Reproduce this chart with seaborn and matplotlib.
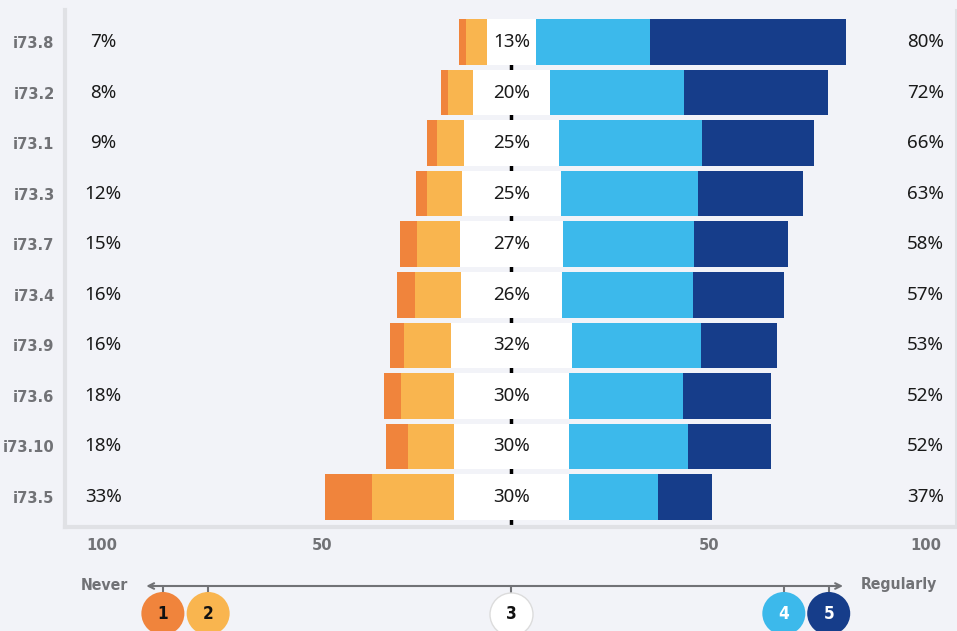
import matplotlib
matplotlib.use("Agg")
import matplotlib.pyplot as plt
import pandas as pd
import seaborn as sns
from matplotlib import font_manager

items = ["i73.8", "i73.2", "i73.1", "i73.3", "i73.7", "i73.4", "i73.9", "i73.6", "i73.10", "i73.5"]

# answer shares in % (1 = never ... 5 = regularly)
never = [1.8, 1.8, 2.6, 2.8, 4.4, 4.7, 3.6, 4.4, 5.9, 12.1]
rarely = [5.4, 6.5, 7.0, 9.0, 11.1, 11.9, 12.1, 13.7, 11.9, 21.2]
neutral = [12.7, 19.9, 24.5, 25.6, 26.6, 26.1, 31.3, 29.5, 29.5, 29.7]
often = [29.5, 34.6, 37.0, 35.4, 33.9, 33.9, 33.3, 29.7, 31.0, 23.0]
regularly = [50.6, 37.2, 28.9, 27.1, 24.3, 23.5, 19.6, 22.7, 21.4, 14.0]

left_labels = ["7%", "8%", "9%", "12%", "15%", "16%", "16%", "18%", "18%", "33%"]
mid_labels = ["13%", "20%", "25%", "25%", "27%", "26%", "32%", "30%", "30%", "30%"]
right_labels = ["80%", "72%", "66%", "63%", "58%", "57%", "53%", "52%", "52%", "37%"]

tick_pos = [-106, -49, 51, 107]
tick_labels = ["100", "50", "50", "100"]

scale_labels = ["1", "2", "3", "4", "5"]
scale_pos = [-90.1, -78.4, 0, 70.4, 82.0]

colors = ["#f0843c", "#f9b54f", "#ffffff", "#3cb9eb", "#163d8a"]
bg = "#f2f3f8"
grey = "#717276"
spine_c = "#e0e1e5"

fonts = font_manager.fontManager.ttflist
names = {f.name for f in fonts}
has_cond = any(f.name == "DejaVu Sans" and f.stretch == "condensed" for f in fonts)
if "Liberation Sans Narrow" in names:
    narrow, stretch, gsize = "Liberation Sans Narrow", "normal", 13
elif has_cond:
    narrow, stretch, gsize = "DejaVu Sans", "condensed", 11.3
else:
    narrow, stretch, gsize = "Roboto Condensed" if "Roboto Condensed" in names else "Roboto", "normal", 11.5
body = "Noto Sans" if "Noto Sans" in names else "DejaVu Sans"

sns.set_style("white")
plt.rcParams["font.family"] = [body, "DejaVu Sans"]

cond = dict(family=[narrow, "DejaVu Sans"], stretch=stretch, fontweight="bold")

df = pd.DataFrame({"item": items, "n1": never, "n2": rarely, "n3": neutral,
                   "n4": often, "n5": regularly})
half = df["n3"] / 2
df["r5"] = half + df["n4"] + df["n5"]
df["r4"] = half + df["n4"]
df["r3"] = half
df["l1"] = -(half + df["n2"] + df["n1"])
df["l2"] = -(half + df["n2"])
df["l3"] = -half

fig = plt.figure(figsize=(9.57, 6.31), dpi=100, facecolor=bg)
ax = fig.add_axes([65 / 957, 104 / 631, 891 / 957, 517 / 631], facecolor=bg)

# center line behind the bars
ax.vlines(0, -0.45, 9.6, color="black", lw=2.5, zorder=0.5)

layers = [("r5", colors[4]), ("r4", colors[3]), ("r3", colors[2]),
          ("l1", colors[0]), ("l2", colors[1]), ("l3", colors[2])]
for col, c in layers:
    sns.barplot(data=df, x=col, y="item", order=items, orient="h", color=c,
                width=0.9, saturation=1, errorbar=None, linewidth=0, ax=ax, zorder=2)

for i in range(len(items)):
    ax.text(-105.5, i, left_labels[i], ha="center", va="center", fontsize=13.5, color="#1a1a1a")
    ax.text(0, i, mid_labels[i], ha="center", va="center", fontsize=13.5, color="#1a1a1a", zorder=3)
    ax.text(107, i, right_labels[i], ha="center", va="center", fontsize=13.5, color="#1a1a1a")

ax.set_xlim(-115.4, 114.9)
ax.set_ylim(9.593, -0.632)
ax.set_xlabel("")
ax.set_ylabel("")
ax.set_xticks(tick_pos, tick_labels)
ax.tick_params(axis="both", length=0, colors=grey, labelsize=gsize + 0.5)
ax.tick_params(axis="x", pad=8)
ax.tick_params(axis="y", pad=7.5)
for lab in ax.get_xticklabels() + ax.get_yticklabels():
    lab.set_family([narrow, "DejaVu Sans"])
    lab.set_stretch(stretch)
    lab.set_weight("bold")
for side in ["left", "bottom", "right"]:
    ax.spines[side].set_color(spine_c)
    ax.spines[side].set_linewidth(3)
ax.spines["right"].set_linewidth(1.5)
ax.spines["top"].set_visible(False)

# answer scale under the chart, in pixel-like y units
ax2 = fig.add_axes([65 / 957, 0, 891 / 957, 1])
ax2.set_xlim(-115.4, 114.9)
ax2.set_ylim(631, 0)
ax2.axis("off")
ax2.patch.set_visible(False)
ax2.annotate("", xy=(-94.4, 586), xytext=(85.7, 586),
             arrowprops=dict(arrowstyle="<->", color=grey, lw=1.5,
                             shrinkA=0, shrinkB=0, mutation_scale=10))
ax2.vlines(scale_pos, 586, 594, color=grey, lw=1.5)
edge = ["none", "none", "#dcdcdc", "none", "none"]
txt_c = ["#111111", "#111111", "#111111", "white", "white"]
for i, lab in enumerate(scale_labels):
    ax2.scatter(scale_pos[i], 613.5, s=960, color=colors[i], edgecolor=edge[i],
                linewidth=1, zorder=3, clip_on=False)
    ax2.text(scale_pos[i], 614, lab, ha="center", va="center", fontsize=gsize + 1,
             color=txt_c[i], zorder=4, **cond)
ax2.text(-99, 585, "Never", ha="right", va="center", fontsize=gsize, color=grey, **cond)
ax2.text(90.3, 585, "Regularly", ha="left", va="center", fontsize=gsize, color=grey, **cond)

fig.savefig("out.png", dpi=100, facecolor=bg)
